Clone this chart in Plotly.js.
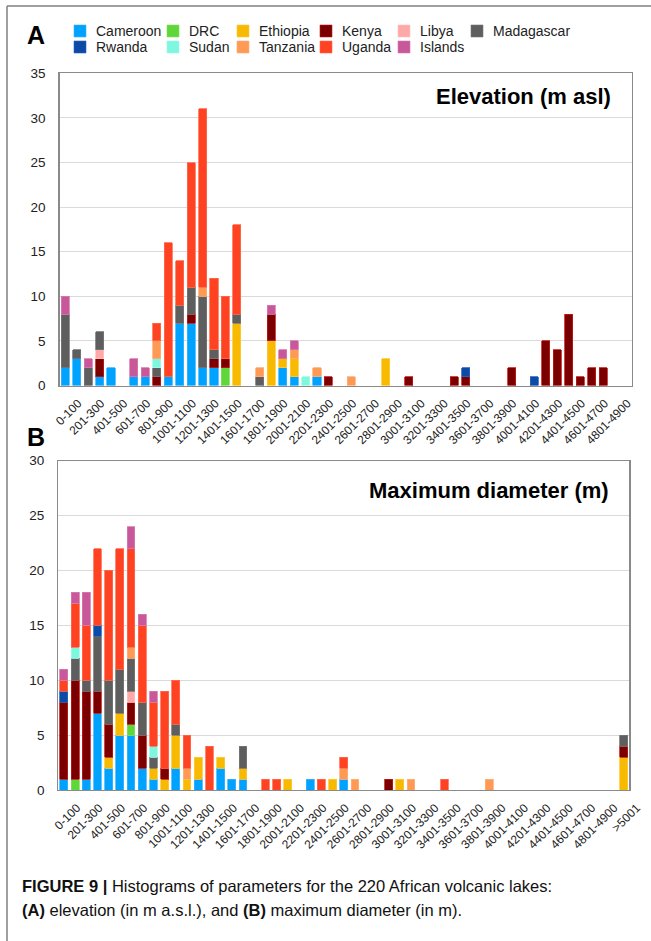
<!DOCTYPE html>
<html>
<head>
<meta charset="utf-8">
<script src="https://cdn.plot.ly/plotly-3.0.1.min.js"></script>
<style>html,body{margin:0;padding:0;background:#fff;}#chart{width:651px;height:941px;}</style>
</head>
<body>
<div id="chart"></div>
<script>
// ---------- DATA ----------
const countries = ["Cameroon","DRC","Ethiopia","Kenya","Libya","Madagascar","Rwanda","Sudan","Tanzania","Uganda","Islands"];

// Elevation bins (A): 50 categories
const catsA = ["0-100","101-200","201-300","301-400","401-500","501-600","601-700","701-800","801-900","901-1000",
"1001-1100","1101-1200","1201-1300","1301-1400","1401-1500","1501-1600","1601-1700","1701-1800","1801-1900","1901-2000",
"2001-2100","2101-2200","2201-2300","2301-2400","2401-2500","2501-2600","2601-2700","2701-2800","2801-2900","2901-3000",
"3001-3100","3101-3200","3201-3300","3301-3400","3401-3500","3501-3600","3601-3700","3701-3800","3801-3900","3901-4000",
"4001-4100","4101-4200","4201-4300","4301-4400","4401-4500","4501-4600","4601-4700","4701-4800","4801-4900","4901-5000"];
const ticksA = ["0-100","201-300","401-500","601-700","801-900","1001-1100","1201-1300","1401-1500","1601-1700","1801-1900",
"2001-2100","2201-2300","2401-2500","2601-2700","2801-2900","3001-3100","3201-3300","3401-3500","3601-3700","3801-3900",
"4001-4100","4201-4300","4401-4500","4601-4700","4801-4900"];

const cameroonA   = [2,3,0,1,2,0,1,1,0,1, 7,7,2,2,0,0,0,0,0,2, 1,0,1,0,0,0,0,0,0,0, 0,0,0,0,0,0,0,0,0,0, 0,0,0,0,0,0,0,0,0,0];
const drcA        = [0,0,0,0,0,0,0,0,0,0, 0,0,0,0,2,0,0,0,0,0, 0,0,0,0,0,0,0,0,0,0, 0,0,0,0,0,0,0,0,0,0, 0,0,0,0,0,0,0,0,0,0];
const ethiopiaA   = [0,0,0,0,0,0,0,0,0,0, 0,0,0,0,0,7,0,0,5,1, 2,0,0,0,0,0,0,0,3,0, 0,0,0,0,0,0,0,0,0,0, 0,0,0,0,0,0,0,0,0,0];
const kenyaA      = [0,0,0,2,0,0,0,0,1,0, 0,1,0,1,1,0,0,0,3,0, 0,0,0,1,0,0,0,0,0,0, 1,0,0,0,1,1,0,0,0,2, 0,0,5,4,8,1,2,2,0,0];
const libyaA      = [0,0,0,1,0,0,0,0,0,0, 0,0,0,0,0,0,0,0,0,0, 0,0,0,0,0,0,0,0,0,0, 0,0,0,0,0,0,0,0,0,0, 0,0,0,0,0,0,0,0,0,0];
const madagascarA = [6,1,2,2,0,0,0,0,1,0, 2,3,8,1,0,1,0,1,0,0, 0,0,0,0,0,0,0,0,0,0, 0,0,0,0,0,0,0,0,0,0, 0,0,0,0,0,0,0,0,0,0];
const rwandaA     = [0,0,0,0,0,0,0,0,0,0, 0,0,0,0,0,0,0,0,0,0, 0,0,0,0,0,0,0,0,0,0, 0,0,0,0,0,1,0,0,0,0, 0,1,0,0,0,0,0,0,0,0];
const sudanA      = [0,0,0,0,0,0,0,0,1,0, 0,0,0,0,0,0,0,0,0,0, 0,1,0,0,0,0,0,0,0,0, 0,0,0,0,0,0,0,0,0,0, 0,0,0,0,0,0,0,0,0,0];
const tanzaniaA   = [0,0,0,0,0,0,0,0,2,0, 0,0,1,0,0,0,0,1,0,0, 1,0,1,0,0,1,0,0,0,0, 0,0,0,0,0,0,0,0,0,0, 0,0,0,0,0,0,0,0,0,0];
const ugandaA     = [0,0,0,0,0,0,0,0,2,15, 5,14,20,8,7,10,0,0,0,0, 0,0,0,0,0,0,0,0,0,0, 0,0,0,0,0,0,0,0,0,0, 0,0,0,0,0,0,0,0,0,0];
const islandsA    = [2,0,1,0,0,0,2,1,0,0, 0,0,0,0,0,0,0,0,1,1, 1,0,0,0,0,0,0,0,0,0, 0,0,0,0,0,0,0,0,0,0, 0,0,0,0,0,0,0,0,0,0];

// Maximum diameter bins (B): 51 categories
const catsB = catsA.concat([">5001"]);
const ticksB = ticksA.concat([">5001"]);

const cameroonB   = [1,0,1,7,2,5,5,2,1,0, 2,0,1,0,2,1,1,0,0,0, 0,0,1,0,0,1,0,0,0,0, 0,0,0,0,0,0,0,0,0,0, 0,0,0,0,0,0,0,0,0,0, 0];
const drcB        = [0,1,0,0,0,0,1,0,0,0, 0,0,0,0,0,0,0,0,0,0, 0,0,0,0,0,0,0,0,0,0, 0,0,0,0,0,0,0,0,0,0, 0,0,0,0,0,0,0,0,0,0, 0];
const ethiopiaB   = [0,0,0,0,1,2,0,0,1,1, 3,1,2,0,1,0,1,0,0,0, 1,0,0,0,1,0,0,0,0,0, 1,0,0,0,0,0,0,0,0,0, 0,0,0,0,0,0,0,0,0,0, 3];
const kenyaB      = [7,9,8,2,3,0,2,3,0,1, 0,0,0,0,0,0,0,0,0,0, 0,0,0,0,0,0,0,0,0,1, 0,0,0,0,0,0,0,0,0,0, 0,0,0,0,0,0,0,0,0,0, 1];
const libyaB      = [0,0,0,0,0,0,1,0,0,0, 0,0,0,0,0,0,0,0,0,0, 0,0,0,0,0,0,0,0,0,0, 0,0,0,0,0,0,0,0,0,0, 0,0,0,0,0,0,0,0,0,0, 0];
const madagascarB = [0,2,1,5,4,4,3,3,1,0, 1,0,0,0,0,0,2,0,0,0, 0,0,0,0,0,0,0,0,0,0, 0,0,0,0,0,0,0,0,0,0, 0,0,0,0,0,0,0,0,0,0, 1];
const rwandaB     = [1,0,0,1,0,0,0,0,0,0, 0,0,0,0,0,0,0,0,0,0, 0,0,0,0,0,0,0,0,0,0, 0,0,0,0,0,0,0,0,0,0, 0,0,0,0,0,0,0,0,0,0, 0];
const sudanB      = [0,1,0,0,0,0,0,0,1,0, 0,0,0,0,0,0,0,0,0,0, 0,0,0,0,0,0,0,0,0,0, 0,0,0,0,0,0,0,0,0,0, 0,0,0,0,0,0,0,0,0,0, 0];
const tanzaniaB   = [0,0,0,0,0,0,1,0,0,0, 0,1,0,0,0,0,0,0,0,0, 0,0,0,0,0,1,1,0,0,0, 0,1,0,0,0,0,0,0,1,0, 0,0,0,0,0,0,0,0,0,0, 0];
const ugandaB     = [1,4,5,7,10,11,9,7,4,7, 4,3,0,4,0,0,0,0,1,1, 0,0,0,1,0,1,0,0,0,0, 0,0,0,0,1,0,0,0,0,0, 0,0,0,0,0,0,0,0,0,0, 0];
const islandsB    = [1,1,3,0,0,0,2,1,1,0, 0,0,0,0,0,0,0,0,0,0, 0,0,0,0,0,0,0,0,0,0, 0,0,0,0,0,0,0,0,0,0, 0,0,0,0,0,0,0,0,0,0, 0];

const seriesA = [cameroonA,drcA,ethiopiaA,kenyaA,libyaA,madagascarA,rwandaA,sudanA,tanzaniaA,ugandaA,islandsA];
const seriesB = [cameroonB,drcB,ethiopiaB,kenyaB,libyaB,madagascarB,rwandaB,sudanB,tanzaniaB,ugandaB,islandsB];

// ---------- STYLE ----------
const colors = ["#00a2ff","#5fd63a","#f8ba00","#7a0000","#ffa8a8","#5e5e5e","#0b4aa6","#7df7de","#ff9a55","#ff4222","#c8589a"];
const edges  = ["#3ab6ff","#7fe05e","#fbc93a","#c81818","#ffc0c0","#777777","#2a64bd","#a0fae8","#ffb07a","#ff6a4d","#d77bb0"];

const W = 651, H = 941;
const px = x => x / W;
const py = y => 1 - y / H;
const FONT = "Liberation Sans, Arial, Helvetica, sans-serif";

const traces = [];
countries.forEach((c, i) => {
  traces.push({
    type: "bar", name: c, x: catsA, y: seriesA[i].map(v => v === 0 ? null : v),
    xaxis: "x", yaxis: "y", marker: {color: colors[i], line: {color: edges[i], width: 0.8}},
    showlegend: false, hoverinfo: "x+y+name"
  });
  traces.push({
    type: "bar", name: c, x: catsB, y: seriesB[i].map(v => v === 0 ? null : v),
    xaxis: "x2", yaxis: "y2", marker: {color: colors[i], line: {color: edges[i], width: 0.8}},
    showlegend: false, hoverinfo: "x+y+name"
  });
});

const axisCommon = {
  showline: true, mirror: true, linecolor: "#8a8a8a", linewidth: 1.2,
  zeroline: false
};

const layout = {
  width: W, height: H,
  margin: {l: 0, r: 0, t: 0, b: 0},
  paper_bgcolor: "#ffffff", plot_bgcolor: "#ffffff",
  barmode: "stack", bargap: 0.3,
  showlegend: false,
  font: {family: FONT, color: "#222"},
  xaxis: Object.assign({}, axisCommon, {
    domain: [px(59.5), px(631.7)], anchor: "y", type: "category",
    categoryorder: "array", categoryarray: catsA,
    tickmode: "array", tickvals: ticksA, ticktext: ticksA,
    tickangle: -45, tickfont: {size: 12, color: "#222"},
    ticks: "outside", ticklen: 5, tickcolor: "rgba(0,0,0,0)",
    ticklabelshift: 13,
    showgrid: false, range: [-0.5, catsA.length - 0.5]
  }),
  yaxis: Object.assign({}, axisCommon, {
    domain: [py(385.5), py(73.3)], anchor: "x", range: [0, 35], dtick: 5,
    showgrid: true, gridcolor: "#dadada", gridwidth: 1,
    tickfont: {size: 13.5, color: "#222"},
    ticks: "outside", ticklen: 10, tickcolor: "rgba(0,0,0,0)"
  }),
  xaxis2: Object.assign({}, axisCommon, {
    domain: [px(58.3), px(629.3)], anchor: "y2", type: "category",
    categoryorder: "array", categoryarray: catsB,
    tickmode: "array", tickvals: ticksB, ticktext: ticksB,
    tickangle: -45, tickfont: {size: 12, color: "#222"},
    ticks: "outside", ticklen: 5, tickcolor: "rgba(0,0,0,0)",
    ticklabelshift: 13,
    showgrid: false, range: [-0.5, catsB.length - 0.5]
  }),
  yaxis2: Object.assign({}, axisCommon, {
    domain: [py(790), py(460.7)], anchor: "x2", range: [0, 30], dtick: 5,
    showgrid: true, gridcolor: "#dadada", gridwidth: 1,
    tickfont: {size: 13.5, color: "#222"},
    ticks: "outside", ticklen: 10, tickcolor: "rgba(0,0,0,0)"
  }),
  shapes: [
    {type: "line", xref: "paper", yref: "paper", x0: px(7), x1: 1, y0: py(6), y1: py(6), line: {color: "#808080", width: 1.5}},
    {type: "line", xref: "paper", yref: "paper", x0: px(7), x1: px(7), y0: py(6), y1: 0, line: {color: "#808080", width: 1.5}}
  ],
  annotations: [
    {xref: "paper", yref: "paper", x: px(36), y: py(35), text: "<b>A</b>", showarrow: false, xanchor: "center", yanchor: "middle", font: {size: 25, family: FONT, color: "#000"}},
    {xref: "paper", yref: "paper", x: px(36), y: py(437), text: "<b>B</b>", showarrow: false, xanchor: "center", yanchor: "middle", font: {size: 25, family: FONT, color: "#000"}},
    {xref: "paper", yref: "paper", x: px(613), y: py(96), text: "<b>Elevation (m asl)</b>", showarrow: false, xanchor: "right", yanchor: "middle", font: {size: 22, family: FONT, color: "#000"}},
    {xref: "paper", yref: "paper", x: px(611), y: py(490), text: "<b>Maximum diameter (m)</b>", showarrow: false, xanchor: "right", yanchor: "middle", font: {size: 22, family: FONT, color: "#000"}},
    {xref: "paper", yref: "paper", x: px(20), y: py(886), text: "<b>FIGURE 9 |</b> Histograms of parameters for the 220 African volcanic lakes:", showarrow: false, xanchor: "left", yanchor: "middle", font: {size: 16.5, family: FONT, color: "#111"}},
    {xref: "paper", yref: "paper", x: px(20), y: py(910), text: "<b>(A)</b> elevation (in m a.s.l.), and <b>(B)</b> maximum diameter (in m).", showarrow: false, xanchor: "left", yanchor: "middle", font: {size: 16.5, family: FONT, color: "#111"}}
  ]
};

// custom two-row legend
const legX = [74, 167, 237, 320, 398, 471, 74, 167, 237, 320, 398];
const legY = [31, 31, 31, 31, 31, 31, 47, 47, 47, 47, 47];
countries.forEach((c, i) => {
  const x = legX[i], y = legY[i];
  layout.shapes.push({type: "rect", xref: "paper", yref: "paper",
    x0: px(x), x1: px(x + 12), y0: py(y + 6), y1: py(y - 6),
    fillcolor: colors[i], line: {color: edges[i], width: 0.6}});
  layout.annotations.push({xref: "paper", yref: "paper", x: px(x + 20), y: py(y),
    text: c, showarrow: false, xanchor: "left", yanchor: "middle",
    font: {size: 14, family: FONT, color: "#222"}});
});

Plotly.newPlot("chart", traces, layout, {displayModeBar: false, staticPlot: true});
</script>
</body>
</html>
